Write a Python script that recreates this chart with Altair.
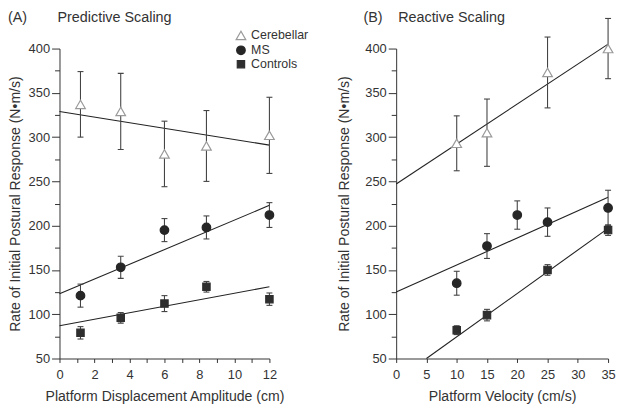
import altair as alt
import pandas as pd

# ---------------- data ----------------
groups = ["Cerebellar", "MS", "Controls"]

# (A) Predictive scaling: platform displacement amplitude (cm)
pred_x = [1.2, 3.5, 6.0, 8.4, 12.0]
pred_cer = [337, 329, 281, 290, 302]
pred_cer_err = [37, 43, 37, 40, 43]
pred_ms = [121, 153, 195, 198, 212]
pred_ms_err = [13, 12.5, 13, 13, 14]
pred_ctl = [79, 96, 112, 131, 117]
pred_ctl_err = [7, 6, 9, 6, 7]
pred_fit_x = [0, 12]
pred_fit_cer = [329, 291]
pred_fit_ms = [123, 223]
pred_fit_ctl = [87, 131]

# (B) Reactive scaling: platform velocity (cm/s)
react_cer_x = [10, 15, 25, 35]
react_cer = [293, 305, 373, 400]
react_cer_err = [31, 38, 40, 34]
react_ms_x = [10, 15, 20, 25, 35]
react_ms = [135, 177, 212, 204, 220]
react_ms_err = [13.5, 14, 16, 16, 20]
react_ctl_x = [10, 15, 25, 35]
react_ctl = [82, 99, 150, 195]
react_ctl_err = [5, 6.5, 6, 6]
react_fit_cer_x = [0, 35]
react_fit_cer = [247, 405]
react_fit_ms_x = [0, 35]
react_fit_ms = [125, 232]
react_fit_ctl_x = [5, 35]
react_fit_ctl = [50, 197]

pred_ticks = list(range(0, 13))
react_ticks = list(range(0, 36, 5))
y_ticks = list(range(50, 401, 25))

panel_letters = ["(A)", "(B)"]
panel_titles = ["Predictive Scaling", "Reactive Scaling"]
x_titles = ["Platform Displacement Amplitude (cm)", "Platform Velocity (cm/s)"]
y_title = "Rate of Initial Postural Response (N•m/s)"


def points_df(series):
    rows = []
    for g, xs, ys, es in series:
        for x, y, e in zip(xs, ys, es):
            rows.append({"group": g, "x": x, "y": y, "lo": y - e, "hi": y + e})
    return pd.DataFrame(rows)


def fit_df(series):
    rows = []
    for g, xs, ys in series:
        for x, y in zip(xs, ys):
            rows.append({"group": g, "x": x, "y": y})
    return pd.DataFrame(rows)


pred_pts = points_df([
    ("Cerebellar", pred_x, pred_cer, pred_cer_err),
    ("MS", pred_x, pred_ms, pred_ms_err),
    ("Controls", pred_x, pred_ctl, pred_ctl_err),
])
pred_fit = fit_df([
    ("Cerebellar", pred_fit_x, pred_fit_cer),
    ("MS", pred_fit_x, pred_fit_ms),
    ("Controls", pred_fit_x, pred_fit_ctl),
])
react_pts = points_df([
    ("Cerebellar", react_cer_x, react_cer, react_cer_err),
    ("MS", react_ms_x, react_ms, react_ms_err),
    ("Controls", react_ctl_x, react_ctl, react_ctl_err),
])
react_fit = fit_df([
    ("Cerebellar", react_fit_cer_x, react_fit_cer),
    ("MS", react_fit_ms_x, react_fit_ms),
    ("Controls", react_fit_ctl_x, react_fit_ctl),
])

TXT = "#333333"
BAR = "#444444"


def panel(pts, fits, xdomain, xticks, label_expr, xtitle, letter, title,
          letter_dx, title_dx, width, show_legend, ytitle_pad):
    xs = alt.Scale(domain=xdomain, nice=False)
    ys = alt.Scale(domain=[50, 400], nice=False)
    xaxis = alt.Axis(values=xticks, labelExpr=label_expr, title=xtitle,
                     labelOverlap=False, labelFlush=False, labelBound=False,
                     tickSize=4, labelPadding=6, titlePadding=8.5)
    yaxis = alt.Axis(values=y_ticks,
                     labelExpr="datum.value % 50 == 0 ? datum.label : ''",
                     labelOverlap=False, labelFlush=False, labelBound=False,
                     tickSize={"condition": {"test": "datum.value % 50 == 0", "value": 8},
                               "value": 5},
                     labelPadding=2, titlePadding=ytitle_pad,
                     title=y_title)

    lines = alt.Chart(fits).mark_line(color="#222222", strokeWidth=1.1).encode(
        x=alt.X("x:Q", scale=xs, axis=xaxis),
        y=alt.Y("y:Q", scale=ys, axis=yaxis),
        detail="group:N",
    )
    rules = alt.Chart(pts).mark_rule(color=BAR, strokeWidth=1.1).encode(
        x=alt.X("x:Q", axis=xaxis), y=alt.Y("lo:Q", axis=yaxis), y2="hi:Q"
    )
    cap_lo = alt.Chart(pts).mark_tick(orient="horizontal", size=6, thickness=1.1,
                                      color=BAR, opacity=1).encode(
        x=alt.X("x:Q", axis=xaxis), y=alt.Y("lo:Q", axis=yaxis))
    cap_hi = alt.Chart(pts).mark_tick(orient="horizontal", size=6, thickness=1.1,
                                      color=BAR, opacity=1).encode(
        x=alt.X("x:Q", axis=xaxis), y=alt.Y("hi:Q", axis=yaxis))
    if show_legend:
        leg = alt.Legend(orient="none", legendX=177, legendY=-19.5, title=None,
                         labelFontSize=12.5, labelColor=TXT, rowPadding=1,
                         labelOffset=4, symbolStrokeWidth=1.2, padding=0)
    else:
        leg = None
    pts_mark = alt.Chart(pts).mark_point(filled=True, opacity=1, strokeWidth=1.2).encode(
        x=alt.X("x:Q", axis=xaxis),
        y=alt.Y("y:Q", axis=yaxis),
        shape=alt.Shape("group:N", scale=alt.Scale(domain=groups,
                        range=["triangle-up", "circle", "square"]), legend=leg),
        fill=alt.Fill("group:N", scale=alt.Scale(domain=groups,
                      range=["#ffffff", "#262626", "#2e2e2e"]), legend=leg),
        stroke=alt.Stroke("group:N", scale=alt.Scale(domain=groups,
                          range=["#9a9a9a", "#262626", "#2e2e2e"]), legend=leg),
        size=alt.Size("group:N", scale=alt.Scale(domain=groups,
                      range=[95, 55, 50]), legend=leg),
    )
    letter_t = alt.Chart(pd.DataFrame({"t": [letter]})).mark_text(
        align="left", baseline="alphabetic", fontSize=14.5, color=TXT
    ).encode(x=alt.value(letter_dx), y=alt.value(-26.5), text="t:N")
    title_t = alt.Chart(pd.DataFrame({"t": [title]})).mark_text(
        align="left", baseline="alphabetic", fontSize=14.5, color=TXT
    ).encode(x=alt.value(title_dx), y=alt.value(-26.5), text="t:N")
    return alt.layer(lines, rules, cap_lo, cap_hi, pts_mark, letter_t, title_t).properties(
        width=width, height=313
    )


left = panel(pred_pts, pred_fit, [0, 12], pred_ticks,
             "datum.value % 2 == 0 ? datum.label : ''", x_titles[0],
             panel_letters[0], panel_titles[0], -52, -2, 212, True, 6)
right = panel(react_pts, react_fit, [0, 35], react_ticks,
              "datum.label", x_titles[1],
              panel_letters[1], panel_titles[1], -33, 2, 214, False, 13)

chart = alt.hconcat(left, right, spacing=128, bounds="flush").resolve_legend(
    shape="independent", fill="independent", stroke="independent", size="independent"
).configure(font="Liberation Sans", padding=0).configure_view(stroke=None).configure_axis(
    grid=False, domainColor=TXT, tickColor=TXT, labelColor=TXT, titleColor=TXT,
    labelFontSize=13, titleFontSize=14.2, titleFontWeight="normal",
    domainWidth=1, tickWidth=1, labelOverlap=False, labelFlush=False, labelBound=False,
)

chart.save("out.html", embed_options={"renderer": "svg", "actions": False})
